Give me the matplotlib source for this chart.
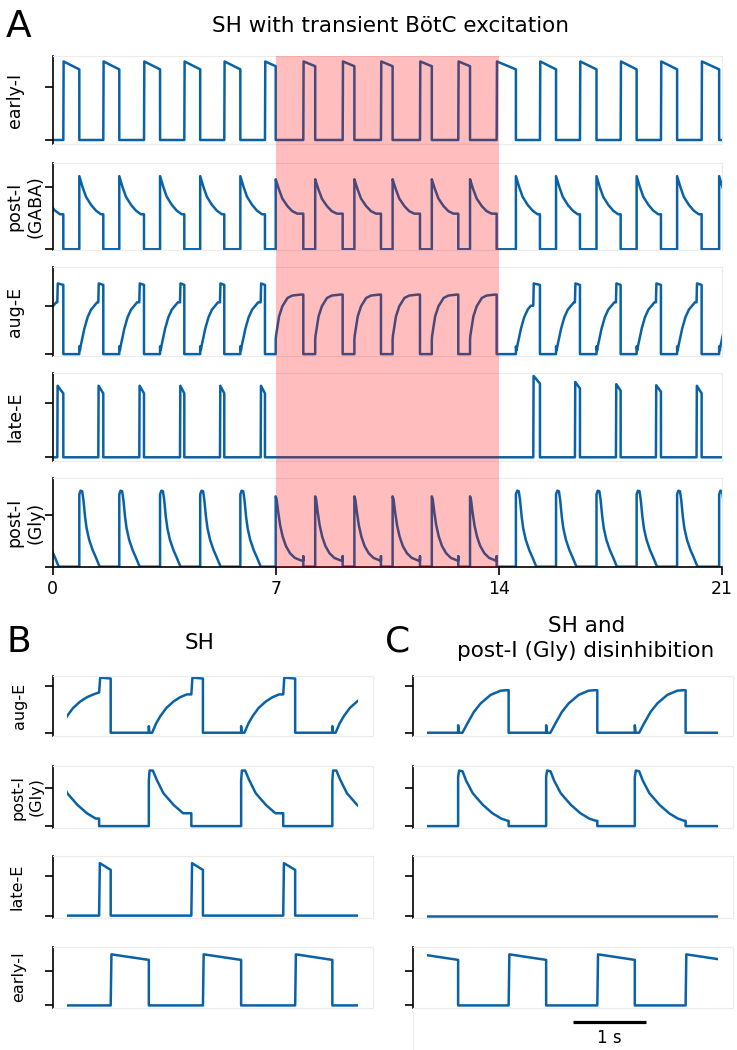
import matplotlib

matplotlib.use('Agg')
import matplotlib.pyplot as plt
from matplotlib.patches import Rectangle
from matplotlib.transforms import blended_transform_factory

BLUE = '#0a62a6'
FRAME = '#ececec'
W, H = 737, 1050

# ---------- panel A: SH with transient BotC excitation ----------
# time in s, activity in units of the upper y tick
A_END = 21
stim = (7, 14)
ei_on = [0.333, 1.588, 2.866, 4.131, 5.386, 6.663, 7.866, 9.102, 10.304,
         11.529, 12.731, 13.936, 15.295, 16.551, 17.828, 19.093, 20.370]
ei_off = [0.835, 2.090, 3.370, 4.630, 5.890, 7.000, 8.240, 9.470, 10.670,
          11.900, 13.100, 14.540, 15.800, 17.070, 18.330, 19.600, 20.920]
ei_top = [1.49] * 17
ei_end = [1.34] * 5 + [1.40] * 6 + [1.34] * 6
le_on = [0.144, 1.431, 2.718, 3.996, 5.251, 6.528, 15.085, 16.393, 17.680, 18.935, 20.210]
le_off = [0.333, 1.588, 2.866, 4.131, 5.386, 6.663, 15.295, 16.551, 17.828, 19.093, 20.370]
le_top = [1.31] * 6 + [1.49, 1.38, 1.34, 1.32, 1.31]
le_end = [1.17] * 6 + [1.35, 1.26, 1.22, 1.20, 1.17]
# post-I and aug-E phases run from an early-I offset to the next onset
pi_on = [-0.45] + ei_off
pi_off = ei_on + [21.5]

# cycle shapes: time after phase start, value, optional blip at phase end
gaba_t = [0, 0.03, 0.10, 0.21, 0.37, 0.52, 0.68, 0.90]
gaba_v = [1.17, 1.12, 1.00, 0.84, 0.71, 0.62, 0.56, 0.54]
gaba_stim_v = [1.12, 1.07, 0.96, 0.81, 0.69, 0.61, 0.57, 0.56]
gly_t = [0, 0.04, 0.09, 0.13, 0.18, 0.23, 0.31, 0.42, 0.52, 0.60, 0.64]
gly_v = [1.40, 1.47, 1.46, 1.29, 0.97, 0.74, 0.52, 0.32, 0.18, 0.06, 0.0]
gly_stim_t = [0, 0.03, 0.08, 0.14, 0.22, 0.32, 0.45, 0.60, 0.80]
gly_stim_v = [1.36, 1.30, 1.05, 0.80, 0.58, 0.40, 0.26, 0.17, 0.12]
aug_t = [0, 0.02, 0.05, 0.16, 0.26, 0.37, 0.47, 0.56]
aug_v = [0.16, 0.08, 0.19, 0.53, 0.76, 0.92, 1.00, 1.07]
aug_stim_t = [0, 0.01, 0.05, 0.105, 0.21, 0.37, 0.52, 0.78]
aug_stim_v = [0.30, 0.38, 0.55, 0.78, 0.99, 1.16, 1.21, 1.23]
aug_jump = (1.46, 1.43)

# ---------- panels B and C (3 cycles, SH / SH + post-I (Gly) disinhibition) ----------
BC_END = 3.99
B_ei_on = [0.596, 1.861, 3.126]
B_ei_off = [1.119, 2.385, 3.636]
B_le_on = [0.437, 1.702, 2.962]
B_pi_on = [-0.20, 1.119, 2.385, 3.636]
B_aug_on = [-0.16, 1.119, 2.385, 3.636]
B_aug_off = [0.596, 1.861, 3.126, 4.5]
B_gly_t = [0, 0.01, 0.055, 0.11, 0.20, 0.34, 0.47, 0.59, 0.65]
B_gly_v = [1.20, 1.47, 1.47, 1.22, 0.87, 0.56, 0.34, 0.20, 0.15]
B_aug_t = [0, 0.005, 0.045, 0.10, 0.16, 0.24, 0.34, 0.43, 0.52, 0.59]
B_aug_v = [0.14, 0.0, 0.0, 0.20, 0.36, 0.53, 0.67, 0.76, 0.82, 0.86]
B_aug_jump = (1.18, 1.16)

C_ei_on = [-0.09, 1.115, 2.330, 3.540]
C_ei_off = [0.423, 1.629, 2.844, 4.054]
C_pi_on = [0.423, 1.629, 2.844]
C_pi_off = [1.115, 2.330, 3.540]
C_gly_t = [0, 0.014, 0.06, 0.11, 0.20, 0.34, 0.47, 0.59, 0.68]
C_gly_v = [1.30, 1.47, 1.45, 1.20, 0.87, 0.56, 0.34, 0.20, 0.14]
C_aug_t = [0, 0.01, 0.059, 0.127, 0.218, 0.31, 0.446, 0.582, 0.664]
C_aug_v = [0.16, 0.0, 0.0, 0.20, 0.45, 0.63, 0.81, 0.90, 0.91]


def pad(t, v):
    # flat baseline before the first and after the last event
    return [-5] + t + [30], [0] + v + [0]


def pulses(on, off, top, end):
    t, v = [], []
    for a, b, p, e in zip(on, off, top, end):
        t += [a, a + 0.01, b, b]
        v += [0, p, e, 0]
    return pad(t, v)


def phases(on, off, shapes, jumps=(), jump=None):
    t, v = [], []
    for a, b, (st, sv, blip) in zip(on, off, shapes):
        j = next((x for x in jumps if a < x < b), None)
        stop = b if j is None else j
        t.append(a)
        v.append(0)
        last = 0
        for dt, y in zip(st, sv):
            if a + dt >= stop:
                break
            t.append(a + dt)
            v.append(y)
            last = y
        t.append(stop)
        v.append(last)
        if j is not None:
            t += [j + 0.015, b]
            v += [jump[0], jump[1]]
        if blip:
            t.append(b)
            v.append(blip)
        t.append(b)
        v.append(0)
    return pad(t, v)


def in_stim(a):
    return stim[0] <= a < stim[1]


fig = plt.figure(figsize=(W / 100, H / 100), dpi=100)


def add_ax(left, top, right, bottom):
    return fig.add_axes([left / W, 1 - bottom / H, (right - left) / W, (bottom - top) / H])


def style(ax, ylim, bottom_black=False):
    for s in ['top', 'right', 'bottom']:
        ax.spines[s].set_color(FRAME)
        ax.spines[s].set_linewidth(0.8)
    ax.spines['left'].set_color('black')
    ax.spines['left'].set_linewidth(1.2)
    ax.set_ylim(ylim)
    ax.set_yticks([0, 1])
    ax.set_yticklabels([])
    ax.tick_params(axis='y', length=6, width=1.2, direction='out')
    if bottom_black:
        ax.spines['bottom'].set_color('black')
        ax.spines['bottom'].set_linewidth(1.2)
        ax.tick_params(axis='x', length=6, width=1.2, labelsize=12.5)
    else:
        ax.set_xticks([])


# panel A
A_rows = [(56, 144), (163, 250.3), (267, 356.3), (373, 461), (478, 567)]
A_ylims = [(-0.076, 1.594), (-0.016, 1.38), (-0.045, 1.80), (-0.068, 1.544), (-0.006, 1.716)]
A_names = ['early-I', 'post-I\n(GABA)', 'aug-E', 'late-E', 'post-I\n(Gly)']

gaba_shapes = [(gaba_t, gaba_stim_v if in_stim(a) else gaba_v, None) for a in pi_on]
gly_shapes = [(gly_stim_t, gly_stim_v, 0.2) if in_stim(a) else (gly_t, gly_v, None) for a in pi_on]
aug_shapes = [(aug_stim_t, aug_stim_v, None) if in_stim(a) else (aug_t, aug_v, None) for a in pi_on]

A_traces = [
    pulses(ei_on, ei_off, ei_top, ei_end),
    phases(pi_on, pi_off, gaba_shapes),
    phases(pi_on, pi_off, aug_shapes, le_on, aug_jump),
    pulses(le_on, le_off, le_top, le_end),
    phases(pi_on, pi_off, gly_shapes),
]

A_axes = []
for i, ((top, bot), ylim, name, (t, v)) in enumerate(zip(A_rows, A_ylims, A_names, A_traces)):
    ax = add_ax(52.7, top, 721.7, bot)
    ax.plot(t, v, color=BLUE, lw=1.8, solid_joinstyle='round')
    ax.set_xlim(0, A_END)
    style(ax, ylim, bottom_black=(i == 4))
    x = 25 if '\n' in name else 15
    fig.text(x / W, 1 - (top + bot) / 2 / H, name, rotation=90, ha='center', va='center',
             multialignment='center', fontsize=12.5)
    A_axes.append(ax)
A_axes[-1].set_xticks([0, 7, 14, 21])

# BotC excitation window spanning all rows of A
tr = blended_transform_factory(A_axes[-1].transData, fig.transFigure)
fig.add_artist(Rectangle((stim[0], 1 - 567 / H), stim[1] - stim[0], (567 - 56) / H,
                         transform=tr, facecolor='red', alpha=0.26, edgecolor='none', zorder=5))

# panels B and C
BC_rows = [(676, 736), (766, 828), (856, 918), (946.7, 1007.5)]
BC_ylims = [(-0.07, 1.214), (-0.05, 1.59), (-0.06, 1.50), (-0.06, 1.69)]
B_names = ['aug-E', 'post-I\n(Gly)', 'late-E', 'early-I']
B_name_x = [19, 27, 17, 18.5]

B_traces = [
    phases(B_aug_on, B_aug_off, [(B_aug_t, B_aug_v, None)] * 4, B_le_on, B_aug_jump),
    phases(B_pi_on, B_le_on + [4.5], [(B_gly_t, B_gly_v, None)] * 4),
    pulses(B_le_on, B_ei_on, [1.32] * 3, [1.15] * 3),
    pulses(B_ei_on, B_ei_off, [1.47] * 3, [1.31] * 3),
]
C_traces = [
    phases(C_pi_on, C_pi_off, [(C_aug_t, C_aug_v, None)] * 3),
    phases(C_pi_on, C_pi_off, [(C_gly_t, C_gly_v, None)] * 3),
    ([0, BC_END], [0, 0]),
    pulses(C_ei_on, C_ei_off, [1.47] * 4, [1.31] * 4),
]

lo, hi = -0.05 * BC_END, 1.05 * BC_END
for (top, bot), ylim, name, nx, (tb, vb), (tc, vc) in zip(BC_rows, BC_ylims, B_names, B_name_x,
                                                          B_traces, C_traces):
    for left, right, t, v in [(52.7, 372.7, tb, vb), (412.7, 733, tc, vc)]:
        ax = add_ax(left, top, right, bot)
        ln, = ax.plot(t, v, color=BLUE, lw=1.8, solid_joinstyle='round')
        ln.set_clip_path(Rectangle((0, -5), BC_END, 10, transform=ax.transData))
        ax.set_xlim(lo, hi)
        style(ax, ylim)
    fig.text(nx / W, 1 - (top + bot) / 2 / H, name, rotation=90, ha='center', va='center',
             multialignment='center', fontsize=11.5)

# scale bar below C
sb = add_ax(412.7, 1012, 733, 1050)
sb.set_xlim(lo, hi)
sb.set_ylim(0, 1)
for s in ['top', 'right', 'bottom']:
    sb.spines[s].set_visible(False)
sb.spines['left'].set_color(FRAME)
sb.set_xticks([])
sb.set_yticks([])
sb.plot([2, 3], [0.745, 0.745], color='black', lw=2.3, solid_capstyle='butt')
sb.text(2.5, 0.32, '1 s', ha='center', va='center', fontsize=12)

# titles and panel letters
fig.text(6 / W, 1 - 37 / H, 'A', fontsize=27, va='baseline', ha='left')
fig.text(390 / W, 1 - 31.7 / H, 'SH with transient BötC excitation', fontsize=15.5,
         ha='center', va='baseline')
fig.text(6 / W, 1 - 652 / H, 'B', fontsize=26, va='baseline', ha='left')
fig.text(200 / W, 1 - 649 / H, 'SH', fontsize=15.5, ha='center', va='baseline')
fig.text(385 / W, 1 - 652 / H, 'C', fontsize=26, va='baseline', ha='left')
fig.text(587 / W, 1 - 632 / H, 'SH and', fontsize=15.5, ha='center', va='baseline')
fig.text(586 / W, 1 - 657 / H, 'post-I (Gly) disinhibition', fontsize=15.5,
         ha='center', va='baseline')

fig.savefig('out.png', dpi=100)
